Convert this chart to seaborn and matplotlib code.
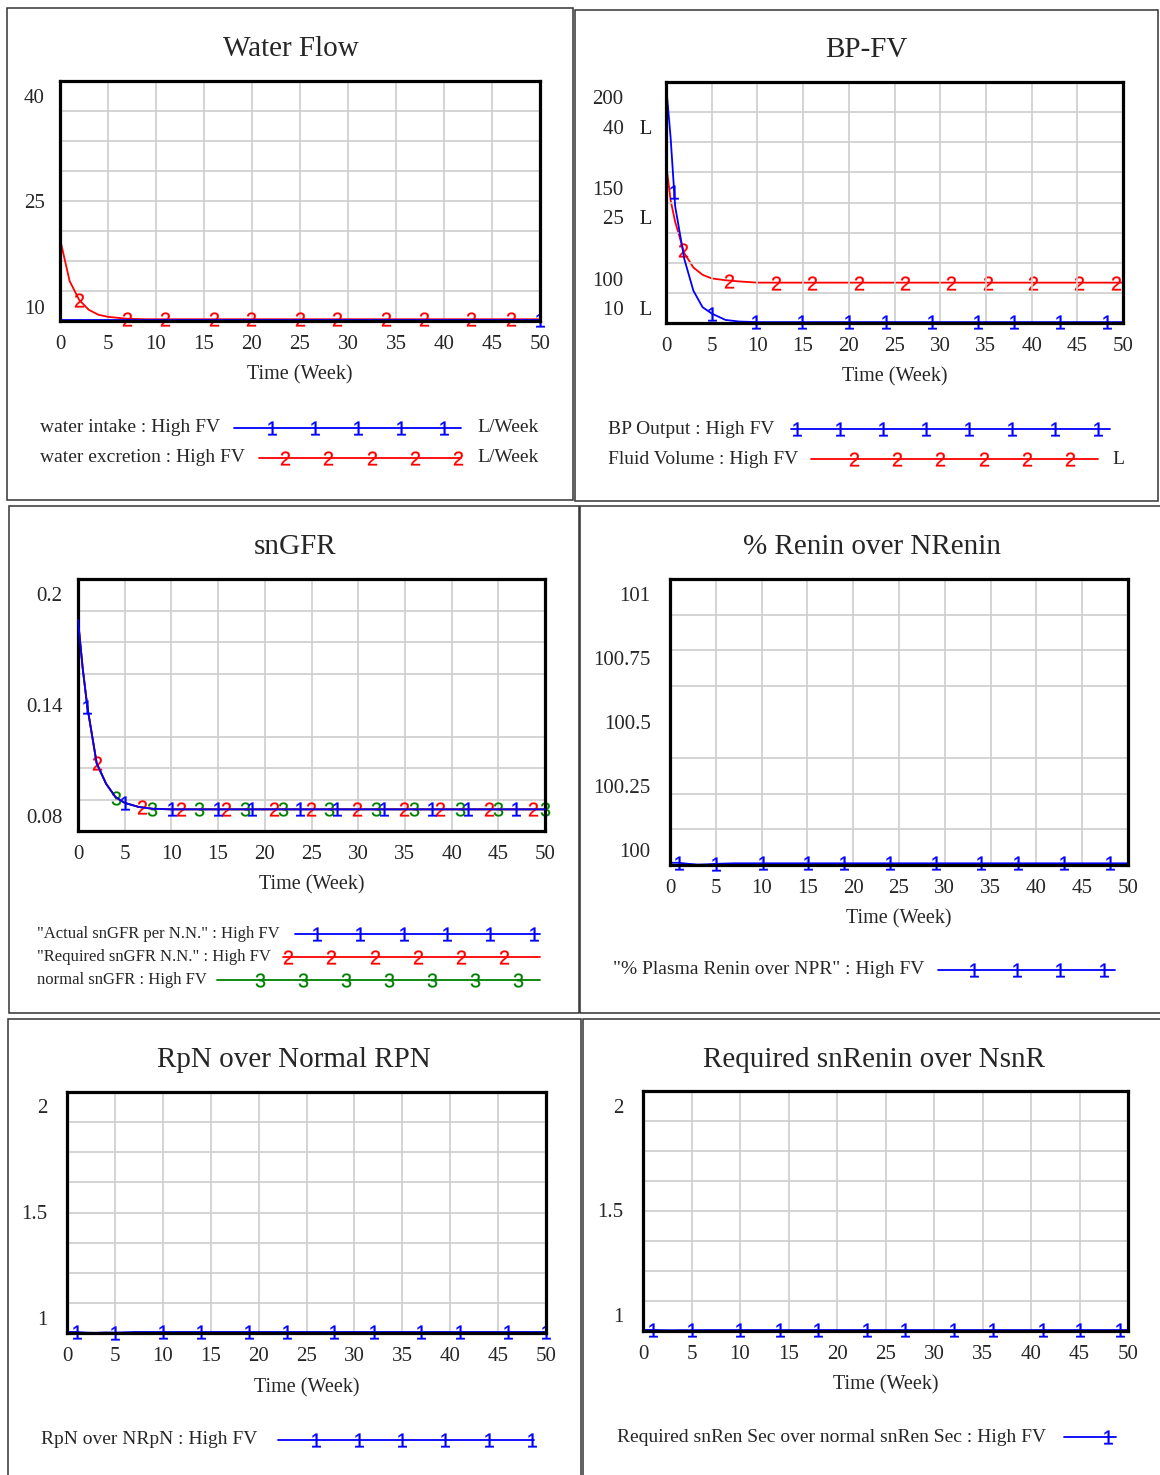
import numpy as np
import matplotlib
matplotlib.use("Agg")
import matplotlib.pyplot as plt
import seaborn as sns
from matplotlib.lines import Line2D
from matplotlib.patches import Rectangle

# ---------------- data ----------------
# Water Flow
wf_time = [0, 0.5, 1, 2, 3, 4, 5, 7, 9, 50]
water_excretion = [19.7, 16.7, 13.7, 11.0, 9.6, 8.9, 8.6, 8.33, 8.26, 8.26]
wi_time = [0, 50]
water_intake = [8.1, 8.1]
wf_marks_intake = [50]
wf_marks_excretion = [2, 7, 10.9, 16, 19.9, 25, 28.9, 34, 37.9, 42.8, 47]

# BP-FV
bp_time = [0, 0.5, 1, 2, 3, 4, 5, 6.5, 8, 10, 50]
bp_output = [207, 178, 140, 111, 93.5, 84.5, 81, 77.5, 76.6, 76.3, 76.3]
fluid_volume = [34.1, 27.9, 24.3, 19.1, 16.7, 15.5, 14.9, 14.6, 14.4, 14.2, 14.2]
bp_marks = [0.9, 5.0, 9.9, 14.9, 20.0, 24.1, 29.1, 34.1, 38.1, 43.1, 48.2]
fv_marks = [1.9, 6.9, 12.0, 16.0, 21.1, 26.2, 31.2, 35.2, 40.1, 45.2, 49.2]

# snGFR
sn_time = [0, 0.5, 1, 2, 3, 4, 5, 6.5, 8, 10, 50]
actual_sngfr = [0.186, 0.160, 0.139, 0.1085, 0.0975, 0.0903, 0.0871, 0.0849, 0.0839, 0.0836, 0.0836]
required_sngfr = [0.186, 0.160, 0.139, 0.1085, 0.0975, 0.0903, 0.0871, 0.0849, 0.0839, 0.0836, 0.0836]
normal_sngfr = [0.186, 0.160, 0.139, 0.1085, 0.0975, 0.0903, 0.0871, 0.0849, 0.0839, 0.0836, 0.0836]
sn_marks1 = [1.0, 5.0, 10.1, 15.0, 18.6, 23.8, 27.7, 32.8, 37.9, 41.8, 46.9]
sn_marks2 = [2.0, 6.9, 11.0, 15.8, 21.0, 24.9, 29.9, 34.9, 38.8, 44.0, 48.7]
sn_marks3 = [4.1, 7.9, 13.0, 17.9, 22.0, 26.9, 31.9, 36.0, 40.9, 45.0, 50.0]

# % Renin over NRenin
ren_time = [0, 1, 2, 3, 4, 5, 7, 10, 50]
renin_pct = [99.950, 99.950, 99.946, 99.943, 99.944, 99.946, 99.948, 99.948, 99.948]
ren_marks = [1.0, 5.0, 10.1, 15.1, 19.0, 24.0, 29.0, 34.0, 38.0, 43.0, 48.0]

# RpN over Normal RPN
rpn_time = [0, 1, 2, 3, 4, 5, 7, 10, 50]
rpn_ratio = [0.934, 0.934, 0.931, 0.930, 0.932, 0.931, 0.934, 0.934, 0.934]
rpn_marks = [1.0, 5.0, 10.0, 14.0, 19.0, 23.0, 27.9, 32.0, 37.0, 41.0, 46.0, 50.0]

# Required snRenin over NsnR
req_time = [0, 1, 2, 3, 4, 5, 7, 10, 50]
req_ratio = [0.9285, 0.9285, 0.9275, 0.927, 0.9275, 0.9275, 0.928, 0.928, 0.928]
req_marks = [1.0, 5.0, 10.0, 14.1, 18.0, 23.1, 27.0, 32.1, 36.1, 41.2, 45.1, 49.2]

x_ticks = [0, 5, 10, 15, 20, 25, 30, 35, 40, 45, 50]

# ---------------- style ----------------
sns.set_theme(style="white")
plt.rcParams["font.family"] = ["Liberation Serif", "DejaVu Serif"]
plt.rcParams["mathtext.fontset"] = "custom"
plt.rcParams["mathtext.rm"] = "Liberation Sans"
plt.rcParams["mathtext.it"] = "Liberation Sans"
plt.rcParams["mathtext.default"] = "rm"

BLUE = "#0000ff"
RED = "#ff0000"
GREEN = "#008000"
GRID = "#cdcdcd"

W, H = 1160, 1475
fig = plt.figure(figsize=(11.6, 14.75), dpi=100)
fig.patch.set_facecolor("white")


def fx(x):
    return x / W


def fy(y):
    return 1 - y / H


# panel borders
for (x0, y0, x1, y1) in [(7, 8, 573, 500), (575, 10, 1158, 501),
                         (9, 506, 579, 1013), (580, 506, 1163, 1013),
                         (8, 1019, 581, 1480), (583, 1019, 1163, 1480)]:
    fig.add_artist(Rectangle((fx(x0), fy(y1)), (x1 - x0) / W, (y1 - y0) / H,
                             transform=fig.transFigure, fill=False,
                             edgecolor="#333333", linewidth=1.1))


def make_axes(box, ylim, yticks, ylabels, xlabel_y, ypad=11):
    x0, y0, x1, y1 = box
    ax = fig.add_axes([fx(x0), fy(y1), (x1 - x0) / W, (y1 - y0) / H])
    ax.set_facecolor("white")
    ax.set_xlim(0, 50)
    ax.set_ylim(*ylim)
    ax.set_xticks(x_ticks)
    ax.set_xticklabels([str(v) for v in x_ticks])
    ax.set_yticks(yticks)
    ax.set_yticklabels(ylabels)
    ax.set_yticks(np.linspace(ylim[0], ylim[1], 9)[1:-1], minor=True)
    ax.grid(False)
    ax.grid(True, axis="x", which="major", color=GRID, linewidth=1.2)
    ax.grid(True, axis="y", which="minor", color=GRID, linewidth=1.2)
    ax.tick_params(which="both", length=0)
    ax.tick_params(axis="x", labelsize=15, pad=10)
    ax.tick_params(axis="y", labelsize=15, pad=ypad)
    for s in ax.spines.values():
        s.set_visible(True)
        s.set_color("black")
        s.set_linewidth(2.3)
        s.set_zorder(5)
    ax.set_xlabel("Time (Week)", fontsize=14.5)
    ax.xaxis.label.set_va("center")
    ax.xaxis.set_label_coords(0.5, -(xlabel_y + 3 - y1) / (y1 - y0))
    ax.set_ylabel("")
    return ax


def series(ax, t, v, color, marks, digit, z=3):
    sns.lineplot(x=t, y=v, ax=ax, color=color, linewidth=1.3, legend=False,
                 zorder=z, clip_on=False)
    if marks:
        sns.scatterplot(x=marks, y=np.interp(marks, t, v), ax=ax, color=color,
                        marker=f"$\\mathrm{{{digit}}}$", s=100, edgecolor=color,
                        linewidth=0.2, legend=False, zorder=z + 1, clip_on=False)


def title(x, y, text):
    fig.text(fx(x), fy(y + 2), text, fontsize=21, ha="center", va="center")


def legend_row(text, tx, y, x0, x1, mxs, digit, color, fs, unit=None, ux=None):
    y = y + 2
    fig.text(fx(tx), fy(y), text, fontsize=fs, ha="left", va="center")
    xs = [x0] + list(mxs) + [x1]
    ln = Line2D([fx(v) for v in xs], [fy(y)] * len(xs), transform=fig.transFigure,
                color=color, linewidth=1.3, marker=f"$\\mathrm{{{digit}}}$",
                markersize=10, markevery=list(range(1, len(mxs) + 1)),
                markeredgecolor=color, markerfacecolor=color, markeredgewidth=0.2)
    fig.add_artist(ln)
    if unit:
        fig.text(fx(ux), fy(y), unit, fontsize=fs, ha="left", va="center")


# ---------------- Panel 1: Water Flow ----------------
ax1 = make_axes((60, 81, 540, 321), (8.01, 42.13), [10, 25, 40], ["10", "25", "40"], 372)
series(ax1, wf_time, water_excretion, RED, wf_marks_excretion, "2", z=3)
series(ax1, wi_time, water_intake, BLUE, wf_marks_intake, "1", z=4)
title(291, 47, "Water Flow")
legend_row("water intake : High FV", 40, 426, 234, 461, [272, 315, 358, 401, 444],
           "1", BLUE, 14, "L/Week", 477)
legend_row("water excretion : High FV", 40, 456, 259, 461, [285, 328, 372, 415, 458],
           "2", RED, 14, "L/Week", 477)

# ---------------- Panel 2: BP-FV ----------------
ax2 = make_axes((666, 82, 1123, 323), (75.8, 208.2), [100, 150, 200], ["100", "150", "200"],
                374, ypad=31)
ax2b = ax2.twinx()
ax2b.set_ylim(7.51, 47.46)
ax2b.set_yticks([10, 25, 40])
ax2b.set_yticklabels(["10   L", "25   L", "40   L"])
ax2b.yaxis.set_ticks_position("left")
ax2b.yaxis.set_label_position("left")
ax2b.tick_params(length=0, labelsize=15, pad=10, labelleft=True, labelright=False)
ax2b.grid(False)
for s in ax2b.spines.values():
    s.set_visible(False)
series(ax2b, bp_time, fluid_volume, RED, fv_marks, "2", z=3)
ax2b.set_ylabel("")
series(ax2, bp_time, bp_output, BLUE, bp_marks, "1", z=4)
ax2.set_zorder(ax2b.get_zorder() + 1)
ax2.patch.set_visible(False)
ax2b.patch.set_visible(True)
ax2b.patch.set_facecolor("white")
title(866, 48, "BP-FV")
legend_row("BP Output : High FV", 608, 427, 791, 1110,
           [797, 840, 883, 926, 969, 1012, 1055, 1098], "1", BLUE, 14)
legend_row("Fluid Volume : High FV", 608, 457, 811, 1098,
           [854, 897, 940, 984, 1027, 1070], "2", RED, 14, "L", 1112)

# ---------------- Panel 3: snGFR ----------------
ax3 = make_axes((78, 579, 545, 831), (0.0719, 0.2081), [0.08, 0.14, 0.2],
                ["0.08", "0.14", "0.2"], 882)
series(ax3, sn_time, normal_sngfr, GREEN, sn_marks3, "3", z=3)
series(ax3, sn_time, required_sngfr, RED, sn_marks2, "2", z=5)
series(ax3, sn_time, actual_sngfr, BLUE, sn_marks1, "1", z=7)
title(295, 545, "snGFR")
legend_row('"Actual snGFR per N.N." : High FV', 37, 932, 295, 540,
           [317, 360, 404, 447, 490, 534], "1", BLUE, 12)
legend_row('"Required snGFR N.N." : High FV', 37, 955, 283, 540,
           [288, 331, 375, 418, 461, 504], "2", RED, 12)
legend_row("normal snGFR : High FV", 37, 978, 217, 540,
           [260, 303, 346, 389, 432, 475, 518], "3", GREEN, 12)

# ---------------- Panel 4: % Renin over NRenin ----------------
ax4 = make_axes((670, 579, 1128, 865), (99.9414, 101.0586),
                [100, 100.25, 100.5, 100.75, 101],
                ["100", "100.25", "100.5", "100.75", "101"], 916, ypad=14)
series(ax4, ren_time, renin_pct, BLUE, ren_marks, "1")
title(872, 545, "% Renin over NRenin")
legend_row('"% Plasma Renin over NPR" : High FV', 613, 968, 938, 1115,
           [974, 1017, 1060, 1104], "1", BLUE, 14)

# ---------------- Panel 5: RpN over Normal RPN ----------------
ax5 = make_axes((67, 1092, 546, 1333), (0.9292, 2.066), [1, 1.5, 2], ["1", "1.5", "2"], 1385,
                ypad=14)
series(ax5, rpn_time, rpn_ratio, BLUE, rpn_marks, "1")
title(294, 1058, "RpN over Normal RPN")
legend_row("RpN over NRpN : High FV", 41, 1438, 278, 534,
           [316, 359, 402, 445, 489, 532], "1", BLUE, 14)

# ---------------- Panel 6: Required snRenin over NsnR ----------------
ax6 = make_axes((643, 1091, 1128, 1331), (0.9234, 2.0718), [1, 1.5, 2], ["1", "1.5", "2"], 1382,
                ypad=14)
series(ax6, req_time, req_ratio, BLUE, req_marks, "1")
title(874, 1058, "Required snRenin over NsnR")
legend_row("Required snRen Sec over normal snRen Sec : High FV", 617, 1435, 1064, 1116,
           [1108], "1", BLUE, 14)

fig.savefig("out.png", dpi=100, facecolor="white")
